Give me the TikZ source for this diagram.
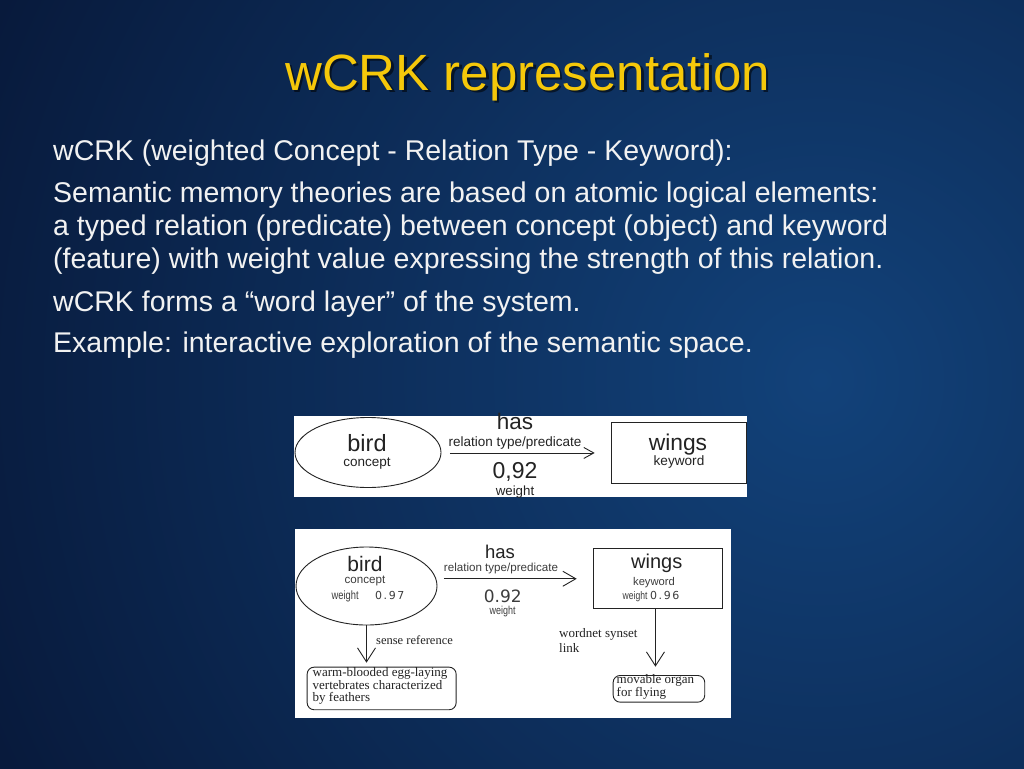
\documentclass[tikz,border=0pt]{standalone}
\usepackage{fontspec}
\setmainfont{Liberation Sans}
\newfontfamily\serifA{Liberation Serif}
\newfontfamily\wideA{DejaVu Sans}
\usetikzlibrary{shapes.geometric,arrows.meta}
\definecolor{bgdark}{RGB}{8,26,60}
\definecolor{bglight}{RGB}{18,66,122}
\definecolor{titlecol}{RGB}{245,200,10}
\definecolor{bodycol}{RGB}{242,242,242}
\definecolor{ink}{RGB}{35,35,35}
\definecolor{inkl}{RGB}{60,60,60}
\newcommand\fsz[1]{\fontsize{#1}{#1}\selectfont}
\newcommand\wnum[1]{{\wideA\addfontfeature{LetterSpace=14}#1}}
\newcommand\narrowA[1]{\scalebox{0.78}[1]{#1}}
\begin{document}
\begin{tikzpicture}[x=1pt,y=-1pt,
  body/.style={anchor=base west, inner sep=0, text=bodycol, font=\fsz{28.5}},
  lbl/.style={anchor=base, inner sep=0, text=ink},
  lblw/.style={anchor=base west, inner sep=0, text=inkl},
  sl/.style={anchor=base west, inner sep=0, text=ink, font=\serifA\fsz{13}},
  panel/.style={fill=white, draw=none, inner sep=0, anchor=north west},
  ellbox/.style={ellipse, draw=ink, line width=0.9pt, inner sep=0},
  kbox/.style={rectangle, draw=ink, line width=0.9pt, inner sep=0, anchor=north west},
  rbox/.style={rectangle, rounded corners=7pt, draw=ink, line width=0.9pt, inner sep=0, anchor=north west},
  conn/.style={draw=ink, line width=0.9pt},
]
% background
\useasboundingbox (0,0) rectangle (1024,768);
\fill[bgdark] (-6,-6) rectangle (1030,774);
\begin{scope}
  \clip (-6,-6) rectangle (1030,774);
  \shade[inner color=bglight, outer color=bgdark] (820,380) circle (900pt);
\end{scope}

% title
\node[anchor=base west, inner sep=0, text=black, opacity=0.55, font=\fsz{51}] (tshadow) at (287.5,92.5) {wCRK representation};
\node[anchor=base west, inner sep=0, text=titlecol, font=\fsz{51}] (title) at (285,90) {wCRK representation};

% body text
\node[body] (l1) at (53,160) {wCRK (weighted Concept - Relation Type - Keyword):};
\node[body] (l2) at (53,202) {Semantic memory theories are based on atomic logical elements:};
\node[body] (l3) at (53,235) {a typed relation (predicate) between concept (object) and keyword};
\node[body] (l4) at (53,268) {(feature) with weight value expressing the strength of this relation.};
\node[body] (l5) at (53,311) {wCRK forms a “word layer” of the system.};
\node[body] (l6) at (53,352) {Example: interactive exploration of the semantic space.};

% ---------- diagram 1 ----------
\node[panel, minimum width=453pt, minimum height=81pt] (p1) at (294,416) {};
\node[ellbox, minimum width=146pt, minimum height=70pt] (e1) at (368,452.5) {};
\node[lbl, font=\fsz{23.5}] (e1t) at (367,451.7) {bird};
\node[lbl, font=\fsz{13.5}] (e1s) at (367,466.7) {concept};
\node[kbox, minimum width=135pt, minimum height=61.6pt] (k1) at (610.7,421.7) {};
\node[lbl, font=\fsz{22.8}] (k1t) at (678,450) {wings};
\node[lbl, font=\fsz{13.6}] (k1s) at (679,465) {keyword};
\draw[conn, -{Straight Barb[length=10pt,width=11pt]}, shorten <=8.5pt, shorten >=16pt]
  (e1.east |- k1.west) -- (k1.west);
\node[lbl, font=\fsz{22.5}] (r1t) at (515,429.3) {has};
\node[lbl, font=\fsz{13.5}] (r1s) at (515,446.7) {relation type/predicate};
\node[lbl, font=\fsz{23}] (w1t) at (515,478.3) {0,92};
\node[lbl, font=\fsz{13.3}] (w1s) at (515,495) {weight};

% ---------- diagram 2 ----------
\node[panel, minimum width=436pt, minimum height=189pt] (p2) at (295,528.5) {};
\node[ellbox, minimum width=141pt, minimum height=78pt] (e2) at (366.5,586) {};
\node[lbl, font=\fsz{21}] (e2t) at (365,571.3) {bird};
\node[lbl, text=inkl, font=\fsz{11.6}] (e2s) at (365,583.5) {concept};
\node[lblw, font=\fsz{12}] (e2w) at (331.5,599) {\narrowA{weight}};
\node[lblw, font=\fsz{11}] (e2v) at (375,599) {\wnum{0.97}};

\node[kbox, minimum width=128.4pt, minimum height=60pt] (k2) at (593.3,548.3) {};
\node[lbl, font=\fsz{20}] (k2t) at (656.7,568.3) {wings};
\node[lbl, text=inkl, font=\fsz{11.2}] (k2s) at (654,585) {keyword};
\node[lblw, font=\fsz{11}] (k2w) at (622.5,599) {\narrowA{weight}};
\node[lblw, font=\fsz{11}] (k2v) at (650,599) {\wnum{0.96}};

\draw[conn, -{Straight Barb[length=13pt,width=15pt]}, shorten <=6.3pt, shorten >=16.6pt]
  (e2.east |- k2.west) -- (k2.west);
\node[lbl, font=\fsz{18.5}] (r2t) at (500,558.3) {has};
\node[lbl, text=inkl, font=\fsz{11.6}] (r2s) at (501,571.7) {relation type/predicate};
\node[lbl, text=inkl, font=\wideA\fsz{17}] (w2t) at (502.7,602.3) {0.92};
\node[lbl, text=inkl, font=\fsz{11.5}] (w2s) at (502.7,614) {\narrowA{weight}};

% lower boxes
\node[rbox, minimum width=149pt, minimum height=42.6pt] (d1) at (306.7,666.7) {};
\node[sl] (d1a) at (312.5,676) {warm-blooded egg-laying};
\node[sl] (d1b) at (312.5,689) {vertebrates characterized};
\node[sl] (d1c) at (312.5,701.7) {by feathers};
\node[rbox, minimum width=91.6pt, minimum height=26.7pt] (d2) at (612.7,675) {};
\node[sl] (d2a) at (616.5,683.3) {movable organ};
\node[sl] (d2b) at (616.5,696.7) {for flying};

\draw[conn, -{Straight Barb[length=14pt,width=18pt]}, shorten >=4pt]
  (e2.south) -- (e2.south |- d1.north);
\node[sl, font=\serifA\fsz{12.5}] (s1) at (376,644) {sense reference};
\draw[conn, -{Straight Barb[length=14pt,width=18pt]}, shorten >=8.3pt]
  ([xshift=-2.5pt]k2.south) -- ([xshift=-2.5pt]k2.south |- d2.north);
\node[sl] (s2a) at (559,637.3) {wordnet synset};
\node[sl] (s2b) at (559,652.3) {link};
\end{tikzpicture}
\end{document}
